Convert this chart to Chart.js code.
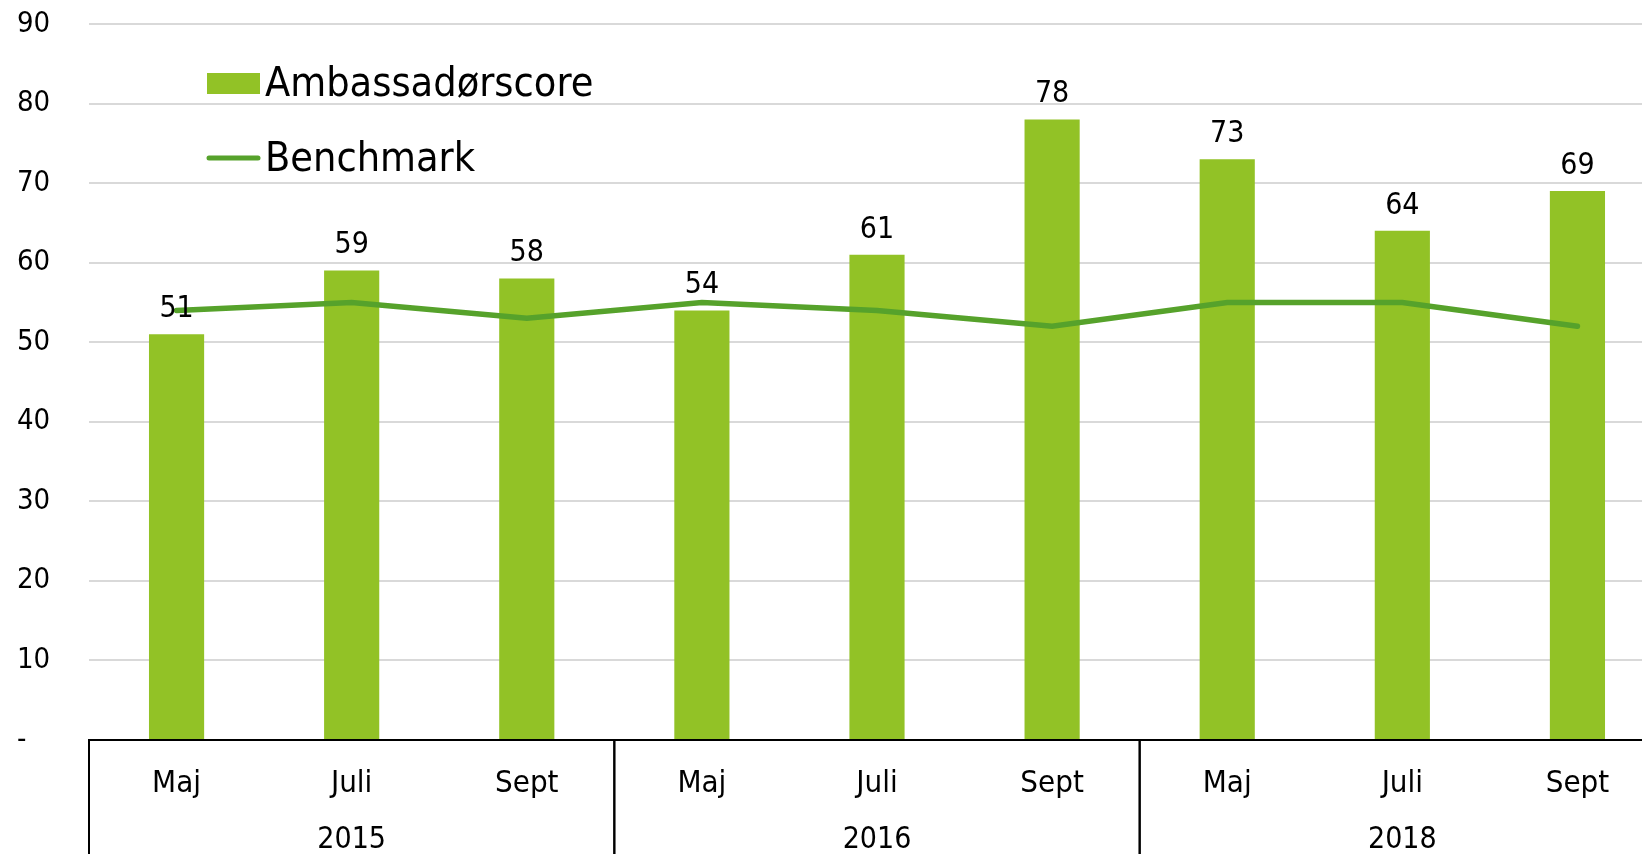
<!DOCTYPE html>
<html>
<head>
<meta charset="utf-8">
<script src="https://cdn.jsdelivr.net/npm/chart.js@4.4.0/dist/chart.umd.min.js"></script>
<style>
html, body { margin: 0; padding: 0; overflow: hidden; background: #fff; }
#wrap { position: relative; width: 1665px; height: 854px; }
</style>
</head>
<body>
<div id="wrap"><canvas id="myChart"></canvas></div>
<script>
// chart data
const months = ['Maj', 'Juli', 'Sept', 'Maj', 'Juli', 'Sept', 'Maj', 'Juli', 'Sept'];
const years = ['2015', '2016', '2018'];
const ambassador = [51, 59, 58, 54, 61, 78, 73, 64, 69];
const benchmark = [54, 55, 53, 55, 54, 52, 55, 55, 52];
const yMax = 90;
const yStep = 10;

const FONT = '"Liberation Sans Narrow", "DejaVu Sans Condensed", sans-serif';
const barColor = '#92C226';
const lineColor = '#56A22B';

// draws the value labels, the year row and the legend
const extras = {
    id: 'extras',
    afterDatasetsDraw(chart) {
        const ctx = chart.ctx;
        const meta = chart.getDatasetMeta(1);
        ctx.save();
        ctx.fillStyle = '#000';
        ctx.font = '30px ' + FONT;
        ctx.textAlign = 'center';
        ctx.textBaseline = 'middle';
        meta.data.forEach((bar, i) => {
            ctx.fillText(String(ambassador[i]), bar.x, bar.y - 25);
        });
        ctx.restore();
    },
    afterDraw(chart) {
        const ctx = chart.ctx;
        const x = chart.scales.x;
        const area = chart.chartArea;
        const per = months.length / years.length;
        const w = x.width / months.length;
        ctx.save();
        // group separators and year labels
        ctx.strokeStyle = '#000';
        ctx.lineWidth = 2;
        ctx.fillStyle = '#000';
        ctx.font = '30px ' + FONT;
        ctx.textAlign = 'center';
        ctx.textBaseline = 'middle';
        years.forEach((yr, g) => {
            const left = x.getPixelForValue(g * per) - w / 2;
            const right = x.getPixelForValue(g * per + per - 1) + w / 2;
            [left, right].forEach(px => {
                ctx.beginPath();
                ctx.moveTo(px, x.top);
                ctx.lineTo(px, chart.height);
                ctx.stroke();
            });
            ctx.fillText(yr, (left + right) / 2, x.top + 100);
        });
        // legend
        const lx = area.left + 118;
        const bar = chart.data.datasets[1];
        const line = chart.data.datasets[0];
        ctx.fillStyle = bar.backgroundColor;
        ctx.fillRect(lx, 73, 53, 21);
        ctx.strokeStyle = line.borderColor;
        ctx.lineWidth = 5;
        ctx.lineCap = 'round';
        ctx.beginPath();
        ctx.moveTo(lx + 2, 158);
        ctx.lineTo(lx + 51, 158);
        ctx.stroke();
        ctx.fillStyle = '#000';
        ctx.font = '41px ' + FONT;
        ctx.textAlign = 'left';
        ctx.fillText(bar.label, lx + 58, 85);
        ctx.fillText(line.label, lx + 58, 160);
        ctx.restore();
    }
};

const ctx = document.getElementById('myChart').getContext('2d');
const chart = new Chart(ctx, {
    type: 'bar',
    data: {
        labels: months,
        datasets: [{
            type: 'line',
            label: 'Benchmark',
            data: benchmark,
            borderColor: lineColor,
            borderWidth: 5.5,
            borderCapStyle: 'round',
            pointRadius: 0,
            tension: 0,
            fill: false,
            order: 0
        }, {
            label: 'Ambassadørscore',
            data: ambassador,
            backgroundColor: barColor,
            barPercentage: 0.315,
            categoryPercentage: 1,
            order: 1
        }]
    },
    options: {
        responsive: true,
        maintainAspectRatio: false,
        animation: false,
        layout: { padding: { left: 17, top: 24, right: 0, bottom: 0 } },
        plugins: {
            legend: { display: false },
            tooltip: { enabled: false }
        },
        scales: {
            x: {
                grid: { display: false },
                border: { display: true, color: '#000', width: 2 },
                ticks: { color: '#000', font: { family: FONT, size: 31 }, padding: 17, maxRotation: 0 },
                afterFit(s) { s.height = 114; }
            },
            y: {
                min: 0,
                max: yMax,
                grid: { color: '#d9d9d9', lineWidth: 2, drawTicks: false },
                border: { display: false },
                ticks: {
                    stepSize: yStep,
                    color: '#000',
                    font: { family: FONT, size: 29 },
                    crossAlign: 'far',
                    callback: v => v === 0 ? '-' : v
                },
                afterFit(s) { s.width = 72; }
            }
        }
    },
    plugins: [extras]
});
</script>
</body>
</html>
